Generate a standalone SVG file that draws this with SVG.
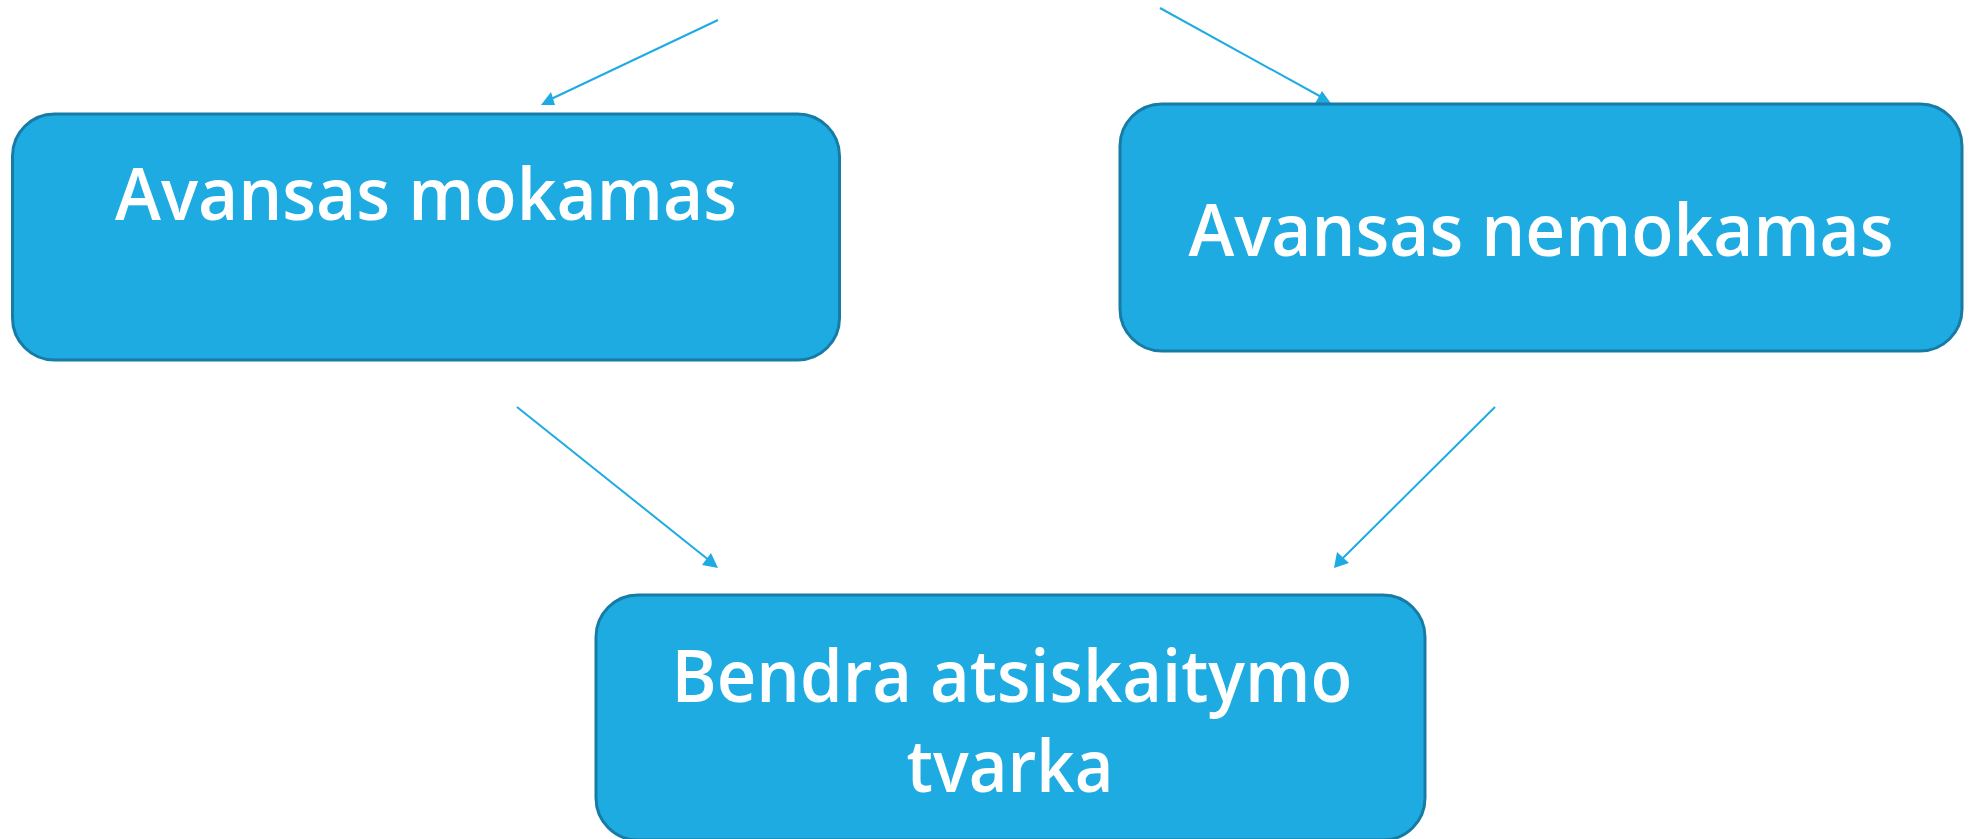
<svg xmlns="http://www.w3.org/2000/svg" width="1972" height="839" viewBox="0 0 1972 839">
<style>
.box{fill:#1eabe2;stroke:#177ca5;stroke-width:3}
.lbl{font-family:"Open Sans","Noto Sans",sans-serif;font-size:73px;font-weight:600;fill:#ffffff;text-anchor:middle}
.conn{stroke:#1eabe2;stroke-width:2;fill:none}
.head{fill:#1eabe2;stroke:none}
</style>
<rect width="1972" height="839" fill="#ffffff"/>
<g id="connectors">
<line class="conn" x1="718" y1="20" x2="549" y2="100"/>
<polygon class="head" points="541,105 551,92 555,105"/>
<line class="conn" x1="1160" y1="8" x2="1325" y2="99"/>
<polygon class="head" points="1315,103.5 1322,91 1331,103.5"/>
<line class="conn" x1="517" y1="407" x2="710" y2="561"/>
<polygon class="head" points="718,568 711,553 702,565"/>
<line class="conn" x1="1495" y1="407" x2="1341" y2="560"/>
<polygon class="head" points="1334,568 1337,552 1349,563"/>
</g>
<g id="node-avansas-mokamas">
<rect class="box" x="12.5" y="114" width="827" height="246" rx="42" ry="42"/>
<text class="lbl" x="426" y="220" textLength="622" lengthAdjust="spacingAndGlyphs">Avansas mokamas</text>
</g>
<g id="node-avansas-nemokamas">
<rect class="box" x="1120" y="104" width="842" height="247" rx="42" ry="42"/>
<text class="lbl" x="1541" y="256" textLength="705" lengthAdjust="spacingAndGlyphs">Avansas nemokamas</text>
</g>
<g id="node-bendra">
<rect class="box" x="596" y="595" width="829" height="245" rx="42" ry="42"/>
<text class="lbl" x="1012" y="702" textLength="681" lengthAdjust="spacingAndGlyphs">Bendra atsiskaitymo</text>
<text class="lbl" x="1010" y="792" textLength="207" lengthAdjust="spacingAndGlyphs">tvarka</text>
</g>
</svg>
